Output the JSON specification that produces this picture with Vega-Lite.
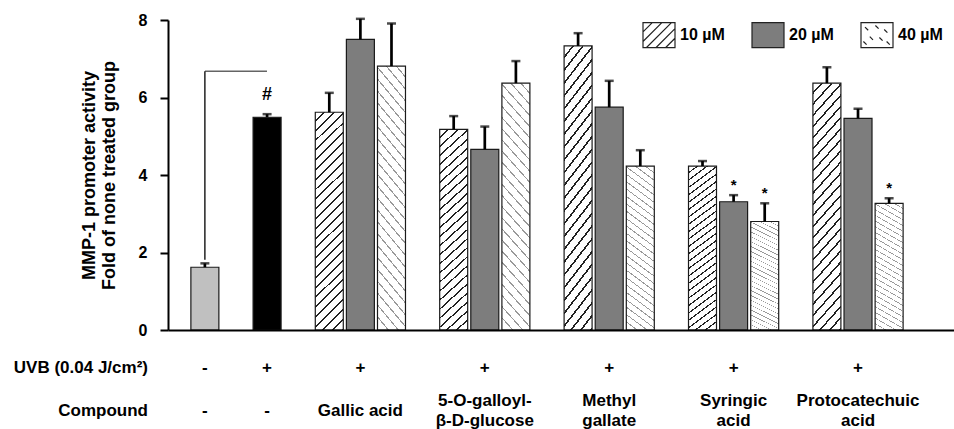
{
  "$schema": "https://vega.github.io/schema/vega-lite/v6.json",
  "width": 786,
  "height": 310,
  "autosize": {"type": "none"},
  "padding": {"left": 168, "top": 20, "right": 0, "bottom": 99},
  "background": "white",
  "config": {
    "view": {"stroke": null},
    "font": "Liberation Sans",
    "text": {"font": "Liberation Sans", "fontWeight": "bold", "fontSize": 17, "color": "black"},
    "axis": {"grid": false, "labelFont": "Liberation Sans", "titleFont": "Liberation Sans", "labelOverlap": false},
    "axisY": {
      "ticks": true, "tickSize": 8, "tickColor": "black", "tickWidth": 2,
      "labelOverlap": false, "labelFontSize": 16, "labelFontWeight": "bold", "labelColor": "black", "labelPadding": 13,
      "domainColor": "black", "domainWidth": 2,
      "titleFontSize": 18, "titleFontWeight": "bold", "titleColor": "black", "titlePadding": 20, "titleLineHeight": 20
    }
  },
  "datasets": {
    "ctrl": [
      {"group": "ctrl", "treat": "-", "uvb": "-", "compound": "-", "mean": 1.62, "upper": 1.72},
      {"group": "ctrl", "treat": "+", "uvb": "+", "compound": "-", "mean": 5.49, "upper": 5.57}
    ],
    "bracket": [
      {"group": "ctrl", "treat": "-", "from": 1.81, "to": 6.68}
    ],
    "cmp": [
      {"group": "Gallic acid", "conc": "10 µM", "mean": 5.62, "upper": 6.12, "sig": ""},
      {"group": "Gallic acid", "conc": "20 µM", "mean": 7.50, "upper": 8.03, "sig": ""},
      {"group": "Gallic acid", "conc": "40 µM", "mean": 6.81, "upper": 7.91, "sig": ""},
      {"group": "5-O-galloyl-\nβ-D-glucose", "conc": "10 µM", "mean": 5.18, "upper": 5.52, "sig": ""},
      {"group": "5-O-galloyl-\nβ-D-glucose", "conc": "20 µM", "mean": 4.66, "upper": 5.25, "sig": ""},
      {"group": "5-O-galloyl-\nβ-D-glucose", "conc": "40 µM", "mean": 6.37, "upper": 6.94, "sig": ""},
      {"group": "Methyl\ngallate", "conc": "10 µM", "mean": 7.33, "upper": 7.66, "sig": ""},
      {"group": "Methyl\ngallate", "conc": "20 µM", "mean": 5.75, "upper": 6.43, "sig": ""},
      {"group": "Methyl\ngallate", "conc": "40 µM", "mean": 4.23, "upper": 4.64, "sig": ""},
      {"group": "Syringic\nacid", "conc": "10 µM", "mean": 4.23, "upper": 4.36, "sig": ""},
      {"group": "Syringic\nacid", "conc": "20 µM", "mean": 3.31, "upper": 3.48, "sig": "*"},
      {"group": "Syringic\nacid", "conc": "40 µM", "mean": 2.80, "upper": 3.27, "sig": "*"},
      {"group": "Protocatechuic\nacid", "conc": "10 µM", "mean": 6.37, "upper": 6.78, "sig": ""},
      {"group": "Protocatechuic\nacid", "conc": "20 µM", "mean": 5.46, "upper": 5.71, "sig": ""},
      {"group": "Protocatechuic\nacid", "conc": "40 µM", "mean": 3.27, "upper": 3.40, "sig": "*"}
    ]
  },
  "resolve": {"scale": {"xOffset": "independent"}},
  "layer": [
    {
      "data": {"name": "ctrl"},
      "layer": [
        {
          "mark": {"type": "bar", "stroke": "#1a1a1a", "strokeWidth": 1.2},
          "encoding": {
            "x": {
              "field": "group", "type": "nominal",
              "scale": {
                "domain": ["ctrl", "Gallic acid", "5-O-galloyl-\nβ-D-glucose", "Methyl\ngallate", "Syringic\nacid", "Protocatechuic\nacid"],
                "paddingInner": 0, "paddingOuter": 0.159, "align": 0.146
              },
              "axis": {"labels": false, "ticks": false, "title": null, "domainColor": "black", "domainWidth": 2, "zindex": 1}
            },
            "xOffset": {"field": "treat", "type": "nominal", "scale": {"domain": ["-", "+"], "paddingInner": 0.55, "paddingOuter": 0.275}},
            "y": {
              "field": "mean", "type": "quantitative",
              "scale": {"domain": [0, 8], "nice": false},
              "axis": {
                "values": [0, 1, 2, 3, 4, 5, 6, 7, 8],
                "title": ["MMP-1 promoter activity", "Fold of none treated group"],
                "labelOverlap": false,
                "zindex": 1
              }
            },
            "fill": {"condition": {"test": "datum.treat === '-'", "value": "#c0c0c0"}, "value": "#000000"}
          }
        },
        {
          "mark": {"type": "rule", "color": "black", "strokeWidth": 2.7},
          "encoding": {
            "x": {"field": "group", "type": "nominal"},
            "xOffset": {"field": "treat", "type": "nominal"},
            "y": {"field": "mean", "type": "quantitative"},
            "y2": {"field": "upper"}
          }
        },
        {
          "mark": {"type": "tick", "color": "black", "size": 9, "thickness": 2.5},
          "encoding": {
            "x": {"field": "group", "type": "nominal"},
            "xOffset": {"field": "treat", "type": "nominal"},
            "y": {"field": "upper", "type": "quantitative"}
          }
        },
        {
          "transform": [{"filter": "datum.treat === '+'"}],
          "mark": {"type": "text", "fontSize": 18, "baseline": "alphabetic", "dy": -14},
          "encoding": {
            "x": {"field": "group", "type": "nominal"},
            "xOffset": {"field": "treat", "type": "nominal"},
            "y": {"field": "upper", "type": "quantitative"},
            "text": {"value": "#"}
          }
        },
        {
          "data": {"name": "bracket"},
          "mark": {"type": "rule", "color": "#222222", "strokeWidth": 1.5},
          "encoding": {
            "x": {"field": "group", "type": "nominal"},
            "xOffset": {"field": "treat", "type": "nominal"},
            "y": {"field": "from", "type": "quantitative"},
            "y2": {"field": "to"}
          }
        },
        {
          "data": {"name": "bracket"},
          "mark": {"type": "tick", "color": "#222222", "size": 62, "thickness": 1.5},
          "encoding": {
            "x": {"field": "group", "type": "nominal"},
            "y": {"field": "to", "type": "quantitative"}
          }
        },
        {
          "mark": {"type": "text", "baseline": "middle"},
          "encoding": {
            "x": {"field": "group", "type": "nominal"},
            "xOffset": {"field": "treat", "type": "nominal"},
            "y": {"datum": -0.99, "type": "quantitative"},
            "text": {"field": "uvb"}
          }
        },
        {
          "mark": {"type": "text", "baseline": "middle"},
          "encoding": {
            "x": {"field": "group", "type": "nominal"},
            "xOffset": {"field": "treat", "type": "nominal"},
            "y": {"datum": -2.08, "type": "quantitative"},
            "text": {"field": "compound"}
          }
        }
      ]
    },
    {
      "data": {"name": "cmp"},
      "layer": [
        {
          "mark": {"type": "bar", "stroke": "#1a1a1a", "strokeWidth": 1.2},
          "encoding": {
            "x": {"field": "group", "type": "nominal"},
            "xOffset": {"field": "conc", "type": "nominal", "scale": {"domain": ["10 µM", "20 µM", "40 µM"], "paddingInner": 0.1, "paddingOuter": 0.55}},
            "y": {"field": "mean", "type": "quantitative"},
            "fill": {
              "condition": [
                {"test": "datum.conc === '10 µM'", "value": {"gradient": "linear", "x1": 0, "y1": 0, "x2": 0.141, "y2": 1.108, "stops": [
                    {"offset": 0, "color": "#ffffff"},
                    {"offset": 0.032, "color": "#ffffff"}, {"offset": 0.032, "color": "#222222"}, {"offset": 0.04, "color": "#222222"}, {"offset": 0.04, "color": "#ffffff"},
                    {"offset": 0.072, "color": "#ffffff"}, {"offset": 0.072, "color": "#222222"}, {"offset": 0.08, "color": "#222222"}, {"offset": 0.08, "color": "#ffffff"},
                    {"offset": 0.112, "color": "#ffffff"}, {"offset": 0.112, "color": "#222222"}, {"offset": 0.12, "color": "#222222"}, {"offset": 0.12, "color": "#ffffff"},
                    {"offset": 0.152, "color": "#ffffff"}, {"offset": 0.152, "color": "#222222"}, {"offset": 0.16, "color": "#222222"}, {"offset": 0.16, "color": "#ffffff"},
                    {"offset": 0.192, "color": "#ffffff"}, {"offset": 0.192, "color": "#222222"}, {"offset": 0.2, "color": "#222222"}, {"offset": 0.2, "color": "#ffffff"},
                    {"offset": 0.232, "color": "#ffffff"}, {"offset": 0.232, "color": "#222222"}, {"offset": 0.24, "color": "#222222"}, {"offset": 0.24, "color": "#ffffff"},
                    {"offset": 0.272, "color": "#ffffff"}, {"offset": 0.272, "color": "#222222"}, {"offset": 0.28, "color": "#222222"}, {"offset": 0.28, "color": "#ffffff"},
                    {"offset": 0.312, "color": "#ffffff"}, {"offset": 0.312, "color": "#222222"}, {"offset": 0.32, "color": "#222222"}, {"offset": 0.32, "color": "#ffffff"},
                    {"offset": 0.352, "color": "#ffffff"}, {"offset": 0.352, "color": "#222222"}, {"offset": 0.36, "color": "#222222"}, {"offset": 0.36, "color": "#ffffff"},
                    {"offset": 0.392, "color": "#ffffff"}, {"offset": 0.392, "color": "#222222"}, {"offset": 0.4, "color": "#222222"}, {"offset": 0.4, "color": "#ffffff"},
                    {"offset": 0.432, "color": "#ffffff"}, {"offset": 0.432, "color": "#222222"}, {"offset": 0.44, "color": "#222222"}, {"offset": 0.44, "color": "#ffffff"},
                    {"offset": 0.472, "color": "#ffffff"}, {"offset": 0.472, "color": "#222222"}, {"offset": 0.48, "color": "#222222"}, {"offset": 0.48, "color": "#ffffff"},
                    {"offset": 0.512, "color": "#ffffff"}, {"offset": 0.512, "color": "#222222"}, {"offset": 0.52, "color": "#222222"}, {"offset": 0.52, "color": "#ffffff"},
                    {"offset": 0.552, "color": "#ffffff"}, {"offset": 0.552, "color": "#222222"}, {"offset": 0.56, "color": "#222222"}, {"offset": 0.56, "color": "#ffffff"},
                    {"offset": 0.592, "color": "#ffffff"}, {"offset": 0.592, "color": "#222222"}, {"offset": 0.6, "color": "#222222"}, {"offset": 0.6, "color": "#ffffff"},
                    {"offset": 0.632, "color": "#ffffff"}, {"offset": 0.632, "color": "#222222"}, {"offset": 0.64, "color": "#222222"}, {"offset": 0.64, "color": "#ffffff"},
                    {"offset": 0.672, "color": "#ffffff"}, {"offset": 0.672, "color": "#222222"}, {"offset": 0.68, "color": "#222222"}, {"offset": 0.68, "color": "#ffffff"},
                    {"offset": 0.712, "color": "#ffffff"}, {"offset": 0.712, "color": "#222222"}, {"offset": 0.72, "color": "#222222"}, {"offset": 0.72, "color": "#ffffff"},
                    {"offset": 0.752, "color": "#ffffff"}, {"offset": 0.752, "color": "#222222"}, {"offset": 0.76, "color": "#222222"}, {"offset": 0.76, "color": "#ffffff"},
                    {"offset": 0.792, "color": "#ffffff"}, {"offset": 0.792, "color": "#222222"}, {"offset": 0.8, "color": "#222222"}, {"offset": 0.8, "color": "#ffffff"},
                    {"offset": 0.832, "color": "#ffffff"}, {"offset": 0.832, "color": "#222222"}, {"offset": 0.84, "color": "#222222"}, {"offset": 0.84, "color": "#ffffff"},
                    {"offset": 0.872, "color": "#ffffff"}, {"offset": 0.872, "color": "#222222"}, {"offset": 0.88, "color": "#222222"}, {"offset": 0.88, "color": "#ffffff"},
                    {"offset": 0.912, "color": "#ffffff"}, {"offset": 0.912, "color": "#222222"}, {"offset": 0.92, "color": "#222222"}, {"offset": 0.92, "color": "#ffffff"},
                    {"offset": 0.952, "color": "#ffffff"}, {"offset": 0.952, "color": "#222222"}, {"offset": 0.96, "color": "#222222"}, {"offset": 0.96, "color": "#ffffff"},
                    {"offset": 0.992, "color": "#ffffff"}, {"offset": 0.992, "color": "#222222"}, {"offset": 1, "color": "#222222"}
                  ]}},
                {"test": "datum.conc === '40 µM'", "value": {"gradient": "linear", "x1": 1, "y1": 0, "x2": 0.859, "y2": 1.108, "stops": [
                    {"offset": 0, "color": "#ffffff"},
                    {"offset": 0.034, "color": "#ffffff"}, {"offset": 0.034, "color": "#999999"}, {"offset": 0.04, "color": "#999999"}, {"offset": 0.04, "color": "#ffffff"},
                    {"offset": 0.074, "color": "#ffffff"}, {"offset": 0.074, "color": "#999999"}, {"offset": 0.08, "color": "#999999"}, {"offset": 0.08, "color": "#ffffff"},
                    {"offset": 0.114, "color": "#ffffff"}, {"offset": 0.114, "color": "#999999"}, {"offset": 0.12, "color": "#999999"}, {"offset": 0.12, "color": "#ffffff"},
                    {"offset": 0.154, "color": "#ffffff"}, {"offset": 0.154, "color": "#999999"}, {"offset": 0.16, "color": "#999999"}, {"offset": 0.16, "color": "#ffffff"},
                    {"offset": 0.194, "color": "#ffffff"}, {"offset": 0.194, "color": "#999999"}, {"offset": 0.2, "color": "#999999"}, {"offset": 0.2, "color": "#ffffff"},
                    {"offset": 0.234, "color": "#ffffff"}, {"offset": 0.234, "color": "#999999"}, {"offset": 0.24, "color": "#999999"}, {"offset": 0.24, "color": "#ffffff"},
                    {"offset": 0.274, "color": "#ffffff"}, {"offset": 0.274, "color": "#999999"}, {"offset": 0.28, "color": "#999999"}, {"offset": 0.28, "color": "#ffffff"},
                    {"offset": 0.314, "color": "#ffffff"}, {"offset": 0.314, "color": "#999999"}, {"offset": 0.32, "color": "#999999"}, {"offset": 0.32, "color": "#ffffff"},
                    {"offset": 0.354, "color": "#ffffff"}, {"offset": 0.354, "color": "#999999"}, {"offset": 0.36, "color": "#999999"}, {"offset": 0.36, "color": "#ffffff"},
                    {"offset": 0.394, "color": "#ffffff"}, {"offset": 0.394, "color": "#999999"}, {"offset": 0.4, "color": "#999999"}, {"offset": 0.4, "color": "#ffffff"},
                    {"offset": 0.434, "color": "#ffffff"}, {"offset": 0.434, "color": "#999999"}, {"offset": 0.44, "color": "#999999"}, {"offset": 0.44, "color": "#ffffff"},
                    {"offset": 0.474, "color": "#ffffff"}, {"offset": 0.474, "color": "#999999"}, {"offset": 0.48, "color": "#999999"}, {"offset": 0.48, "color": "#ffffff"},
                    {"offset": 0.514, "color": "#ffffff"}, {"offset": 0.514, "color": "#999999"}, {"offset": 0.52, "color": "#999999"}, {"offset": 0.52, "color": "#ffffff"},
                    {"offset": 0.554, "color": "#ffffff"}, {"offset": 0.554, "color": "#999999"}, {"offset": 0.56, "color": "#999999"}, {"offset": 0.56, "color": "#ffffff"},
                    {"offset": 0.594, "color": "#ffffff"}, {"offset": 0.594, "color": "#999999"}, {"offset": 0.6, "color": "#999999"}, {"offset": 0.6, "color": "#ffffff"},
                    {"offset": 0.634, "color": "#ffffff"}, {"offset": 0.634, "color": "#999999"}, {"offset": 0.64, "color": "#999999"}, {"offset": 0.64, "color": "#ffffff"},
                    {"offset": 0.674, "color": "#ffffff"}, {"offset": 0.674, "color": "#999999"}, {"offset": 0.68, "color": "#999999"}, {"offset": 0.68, "color": "#ffffff"},
                    {"offset": 0.714, "color": "#ffffff"}, {"offset": 0.714, "color": "#999999"}, {"offset": 0.72, "color": "#999999"}, {"offset": 0.72, "color": "#ffffff"},
                    {"offset": 0.754, "color": "#ffffff"}, {"offset": 0.754, "color": "#999999"}, {"offset": 0.76, "color": "#999999"}, {"offset": 0.76, "color": "#ffffff"},
                    {"offset": 0.794, "color": "#ffffff"}, {"offset": 0.794, "color": "#999999"}, {"offset": 0.8, "color": "#999999"}, {"offset": 0.8, "color": "#ffffff"},
                    {"offset": 0.834, "color": "#ffffff"}, {"offset": 0.834, "color": "#999999"}, {"offset": 0.84, "color": "#999999"}, {"offset": 0.84, "color": "#ffffff"},
                    {"offset": 0.874, "color": "#ffffff"}, {"offset": 0.874, "color": "#999999"}, {"offset": 0.88, "color": "#999999"}, {"offset": 0.88, "color": "#ffffff"},
                    {"offset": 0.914, "color": "#ffffff"}, {"offset": 0.914, "color": "#999999"}, {"offset": 0.92, "color": "#999999"}, {"offset": 0.92, "color": "#ffffff"},
                    {"offset": 0.954, "color": "#ffffff"}, {"offset": 0.954, "color": "#999999"}, {"offset": 0.96, "color": "#999999"}, {"offset": 0.96, "color": "#ffffff"},
                    {"offset": 1, "color": "#ffffff"}
                  ]}}
              ],
              "value": "#7d7d7d"
            }
          }
        },
        {
          "mark": {"type": "point", "filled": true, "size": 0, "strokeWidth": 1.2, "opacity": 1},
          "encoding": {
            "x": {"field": "group", "type": "nominal"},
            "xOffset": {"field": "conc", "type": "nominal"},
            "y": {"field": "mean", "type": "quantitative"},
            "fill": {
              "field": "conc", "type": "nominal",
              "scale": {"domain": ["10 µM", "20 µM", "40 µM"], "range": ["#ffffff", "#7d7d7d", "#ffffff"]},
              "legend": {
                "title": null, "orient": "none", "legendX": 474, "legendY": -2,
                "direction": "horizontal", "columns": 3, "columnPadding": 24, "padding": 0,
                "symbolSize": 1024, "symbolStrokeWidth": 1.2, "symbolOpacity": 1,
                "labelFont": "Liberation Sans", "labelFontSize": 16, "labelFontWeight": "bold", "labelColor": "black", "labelOffset": 4
              }
            },
            "stroke": {
              "field": "conc", "type": "nominal",
              "scale": {"domain": ["10 µM", "20 µM", "40 µM"], "range": ["#222222", "#222222", "#222222"]},
              "legend": {
                "title": null, "orient": "none", "legendX": 474, "legendY": -2,
                "direction": "horizontal", "columns": 3, "columnPadding": 24, "padding": 0,
                "symbolSize": 1024, "symbolStrokeWidth": 1.2, "symbolOpacity": 1,
                "labelFont": "Liberation Sans", "labelFontSize": 16, "labelFontWeight": "bold", "labelColor": "black", "labelOffset": 4
              }
            },
            "shape": {
              "field": "conc", "type": "nominal",
              "scale": {
                "domain": ["10 µM", "20 µM", "40 µM"],
                "range": [
                  "M-1,-0.78H1V0.78H-1Z M-1,-0.2L-0.42,-0.78 M-1,0.4L0.18,-0.78 M-0.78,0.78L0.78,-0.78 M-0.18,0.78L1,-0.4 M0.42,0.78L1,0.2",
                  "M-1,-0.78H1V0.78H-1Z",
                  "M-1,-0.78H1V0.78H-1Z M-0.75,-0.5L-0.55,-0.3 M-0.1,-0.6L0.1,-0.4 M0.45,-0.35L0.65,-0.15 M-0.45,0.1L-0.25,0.3 M0.15,0.15L0.35,0.35 M0.6,0.4L0.8,0.6 M-0.85,0.4L-0.65,0.6"
                ]
              },
              "legend": {
                "title": null, "orient": "none", "legendX": 474, "legendY": -2,
                "direction": "horizontal", "columns": 3, "columnPadding": 24, "padding": 0,
                "symbolSize": 1024, "symbolStrokeWidth": 1.2, "symbolOpacity": 1,
                "labelFont": "Liberation Sans", "labelFontSize": 16, "labelFontWeight": "bold", "labelColor": "black", "labelOffset": 4
              }
            }
          }
        },
        {
          "mark": {"type": "rule", "color": "black", "strokeWidth": 2.7},
          "encoding": {
            "x": {"field": "group", "type": "nominal"},
            "xOffset": {"field": "conc", "type": "nominal"},
            "y": {"field": "mean", "type": "quantitative"},
            "y2": {"field": "upper"}
          }
        },
        {
          "mark": {"type": "tick", "color": "black", "size": 9, "thickness": 2.5},
          "encoding": {
            "x": {"field": "group", "type": "nominal"},
            "xOffset": {"field": "conc", "type": "nominal"},
            "y": {"field": "upper", "type": "quantitative"}
          }
        },
        {
          "transform": [{"filter": "datum.sig === '*'"}],
          "mark": {"type": "text", "fontSize": 15, "baseline": "alphabetic", "dy": -5},
          "encoding": {
            "x": {"field": "group", "type": "nominal"},
            "xOffset": {"field": "conc", "type": "nominal"},
            "y": {"field": "upper", "type": "quantitative"},
            "text": {"field": "sig"}
          }
        },
        {
          "transform": [{"filter": "datum.conc === '20 µM'"}],
          "mark": {"type": "text", "baseline": "middle"},
          "encoding": {
            "x": {"field": "group", "type": "nominal"},
            "y": {"datum": -0.99, "type": "quantitative"},
            "text": {"value": "+"}
          }
        },
        {
          "transform": [{"filter": "datum.conc === '20 µM' && datum.group === 'Gallic acid'"}],
          "mark": {"type": "text", "baseline": "middle"},
          "encoding": {
            "x": {"field": "group", "type": "nominal"},
            "y": {"datum": -2.08, "type": "quantitative"},
            "text": {"field": "group"}
          }
        },
        {
          "transform": [{"filter": "datum.conc === '20 µM' && datum.group !== 'Gallic acid'"}],
          "mark": {"type": "text", "baseline": "middle", "lineBreak": "\n", "lineHeight": 20},
          "encoding": {
            "x": {"field": "group", "type": "nominal"},
            "y": {"datum": -1.82, "type": "quantitative"},
            "text": {"field": "group"}
          }
        }
      ]
    },
    {
      "data": {"values": [{"label": "UVB (0.04 J/cm²)"}]},
      "mark": {"type": "text", "align": "right", "baseline": "middle", "dx": -88},
      "encoding": {
        "x": {"datum": "ctrl", "type": "nominal"},
        "y": {"datum": -0.99, "type": "quantitative"},
        "text": {"field": "label"}
      }
    },
    {
      "data": {"values": [{"label": "Compound"}]},
      "mark": {"type": "text", "align": "right", "baseline": "middle", "dx": -88},
      "encoding": {
        "x": {"datum": "ctrl", "type": "nominal"},
        "y": {"datum": -2.08, "type": "quantitative"},
        "text": {"field": "label"}
      }
    }
  ]
}
